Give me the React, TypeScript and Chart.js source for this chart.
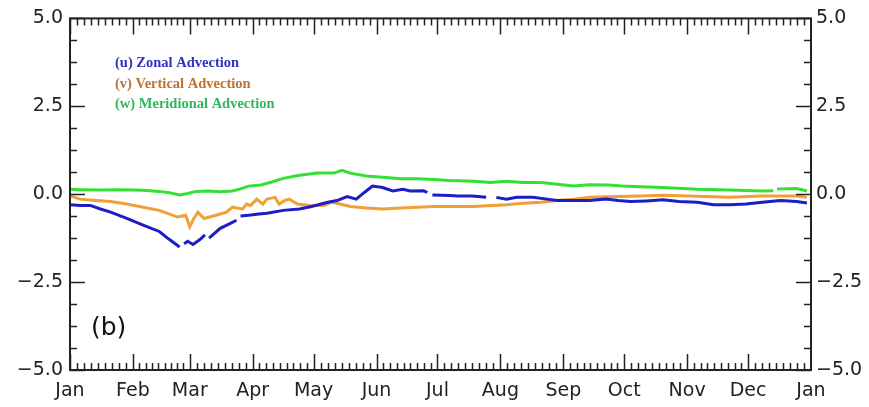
import React, { useEffect, useRef } from "react";
import { Chart, registerables } from "chart.js";

Chart.register(...registerables);

const monthLabels = ["Jan", "Feb", "Mar", "Apr", "May", "Jun", "Jul", "Aug", "Sep", "Oct", "Nov", "Dec", "Jan"];
const monthStartDays = [0, 31, 59, 90, 120, 151, 181, 212, 243, 273, 304, 334, 365];
const yTickValues = [-5, -2.5, 0, 2.5, 5];
const legendLabels = ["(u) Zonal Advection", "(v) Vertical Advection", "(w) Meridional Advection"];
const panelLabel = "(b)";

// (u) Zonal advection (blue); null = gap in the line
const zonalDays = [0, 5, 10, 15, 20, 28, 36, 44, 49, 54, 55, 56.2, 58, 60.6, 64, 66.5, 67.3, 68.5, 74, 79, 82, 82.8, 84, 88, 93, 97, 105, 113, 119, 127, 131.5, 136.5, 141, 145, 149, 154, 159, 164, 167.5, 174, 176, 177.2, 178.5, 183, 187, 191, 198, 205, 206, 207.5, 210, 215, 220, 228, 235, 240, 248, 256, 264, 270, 276, 284, 292, 300, 309, 317, 325, 333, 341, 350, 358, 363];
const zonalValues = [-0.3, -0.32, -0.32, -0.42, -0.51, -0.69, -0.88, -1.06, -1.29, -1.5, null, -1.41, -1.34, -1.43, -1.29, -1.16, null, -1.25, -0.97, -0.83, -0.74, null, -0.62, -0.6, -0.56, -0.54, -0.46, -0.42, -0.35, -0.23, -0.18, -0.07, -0.14, 0.05, 0.23, 0.19, 0.09, 0.14, 0.09, 0.1, 0.05, null, -0.02, -0.03, -0.04, -0.05, -0.05, -0.09, null, null, -0.09, -0.14, -0.09, -0.09, -0.14, -0.18, -0.18, -0.18, -0.14, -0.18, -0.21, -0.19, -0.16, -0.21, -0.23, -0.3, -0.3, -0.28, -0.23, -0.18, -0.21, -0.25];

// (v) Vertical advection (orange)
const verticalDays = [0, 5, 11, 20, 28, 36, 44, 53, 57, 59, 61, 63, 66, 72, 77, 80, 85, 87, 89, 92, 95, 97, 101, 103, 106, 108, 112, 118, 125, 129, 133, 138, 146, 154, 163, 171, 179, 187, 199, 215, 223, 232, 240, 248, 256, 265, 281, 292, 309, 325, 341, 358, 363];
const verticalValues = [-0.05, -0.14, -0.17, -0.21, -0.28, -0.37, -0.46, -0.65, -0.6, -0.93, -0.69, -0.51, -0.69, -0.6, -0.51, -0.37, -0.42, -0.28, -0.32, -0.14, -0.28, -0.14, -0.09, -0.28, -0.17, -0.14, -0.28, -0.32, -0.32, -0.23, -0.28, -0.35, -0.39, -0.42, -0.39, -0.37, -0.35, -0.35, -0.35, -0.3, -0.26, -0.23, -0.18, -0.14, -0.09, -0.07, -0.05, -0.03, -0.06, -0.09, -0.05, -0.05, -0.09];

// (w) Meridional advection (green)
const meridionalDays = [0, 5, 15, 25, 36, 44, 49, 54, 58, 62, 68, 74, 80, 84, 88, 94, 99, 105, 113, 122, 130, 134, 138, 146, 154, 163, 171, 179, 187, 199, 207, 215, 223, 232, 240, 248, 256, 265, 272, 281, 292, 309, 325, 341, 346.5, 347.3, 348.3, 358, 363];
const meridionalValues = [0.14, 0.13, 0.12, 0.13, 0.11, 0.08, 0.04, -0.02, 0.02, 0.08, 0.09, 0.07, 0.09, 0.15, 0.23, 0.26, 0.34, 0.45, 0.54, 0.6, 0.6, 0.68, 0.6, 0.52, 0.48, 0.44, 0.44, 0.42, 0.39, 0.37, 0.33, 0.37, 0.33, 0.33, 0.28, 0.23, 0.27, 0.26, 0.23, 0.21, 0.19, 0.14, 0.12, 0.09, 0.1, null, 0.15, 0.16, 0.09];

const toPoints = (days: number[], vals: (number | null)[]) => days.map((d, i) => ({ x: d, y: vals[i] }));

const TICK_FONT = { family: "DejaVu Sans", size: 19 };
const AXIS_COLOR = "#222";

const fmt = (v: number) => (v < 0 ? "\u2212" + Math.abs(v).toFixed(1) : v.toFixed(1));

const decorPlugin = {
  id: "decor",
  afterDraw(chart: any) {
    const ctx = chart.ctx;
    const { left, right, top, bottom } = chart.chartArea;
    const xs = chart.scales.x;
    const ys = chart.scales.y;
    ctx.save();
    ctx.strokeStyle = AXIS_COLOR;
    ctx.lineWidth = 1.5;
    ctx.beginPath();
    for (let m = 0; m < monthStartDays.length - 1; m++) {
      const a = monthStartDays[m];
      const b = monthStartDays[m + 1];
      for (let k = 0; k < 9; k++) {
        const d = a + ((b - a) * k) / 9;
        const px = Math.round(xs.getPixelForValue(d)) + 0.5;
        const len = k === 0 ? 16 : 7;
        ctx.moveTo(px, bottom);
        ctx.lineTo(px, bottom - len);
        ctx.moveTo(px, top);
        ctx.lineTo(px, top + len);
      }
    }
    for (let i = 0; i <= 16; i++) {
      const v = -5 + i * 0.625;
      const py = Math.round(ys.getPixelForValue(v)) + 0.5;
      const major = i % 4 === 0;
      const len = major ? 15 : 7;
      ctx.moveTo(left, py);
      ctx.lineTo(left + len, py);
      ctx.moveTo(right, py);
      ctx.lineTo(right - len, py);
    }
    ctx.stroke();
    ctx.lineWidth = 2;
    ctx.strokeRect(left, top, right - left, bottom - top);

    const legendColors = ["#3030c0", "#c07030", "#30b858"];
    ctx.font = "bold 14.5px 'Liberation Serif'";
    ctx.textAlign = "left";
    ctx.textBaseline = "middle";
    legendLabels.forEach((t, i) => {
      ctx.fillStyle = legendColors[i];
      ctx.fillText(t, left + 45, top + 45 + i * 20.5);
    });

    ctx.fillStyle = "#111";
    ctx.font = "25px 'DejaVu Sans'";
    ctx.fillText(panelLabel, left + 21, bottom - 42);
    ctx.restore();
  },
};

export default function App() {
  const ref = useRef<HTMLCanvasElement>(null);
  useEffect(() => {
    if (!ref.current) return;
    const yCommon = {
      type: "linear" as const,
      min: -5,
      max: 5,
      display: true,
      grid: { display: false, drawTicks: false },
      border: { display: false },
      afterBuildTicks: (s: any) => {
        s.ticks = yTickValues.map((v) => ({ value: v }));
      },
      ticks: {
        font: TICK_FONT,
        color: AXIS_COLOR,
        callback: (v: any) => fmt(Number(v)),
      },
    };
    const mk = (label: string, data: any, color: string) => ({
      label,
      data,
      borderColor: color,
      borderWidth: 3,
      pointRadius: 0,
      spanGaps: false,
      tension: 0,
    });
    const chart = new Chart(ref.current, {
      type: "line",
      data: {
        datasets: [
          mk(legendLabels[0], toPoints(zonalDays, zonalValues), "#1c1cc8"),
          mk(legendLabels[1], toPoints(verticalDays, verticalValues), "#f2a035"),
          mk(legendLabels[2], toPoints(meridionalDays, meridionalValues), "#33e033"),
        ],
      },
      options: {
        animation: false,
        responsive: false,
        layout: { padding: { top: 13, left: 0, right: 0, bottom: 0 } },
        plugins: { legend: { display: false }, tooltip: { enabled: false } },
        scales: {
          x: {
            type: "linear",
            position: "bottom",
            min: 0,
            max: 365,
            grid: { display: false, drawTicks: false },
            border: { display: false },
            afterBuildTicks: (s: any) => {
              s.ticks = monthStartDays.map((v) => ({ value: v }));
            },
            afterFit: (s: any) => {
              s.height = 37;
            },
            ticks: {
              autoSkip: false,
              maxRotation: 0,
              minRotation: 0,
              padding: 10,
              font: TICK_FONT,
              color: AXIS_COLOR,
              callback: (_v: any, i: number) => monthLabels[i],
            },
          },
          y: {
            ...yCommon,
            position: "left",
            afterFit: (s: any) => {
              s.width = 70;
            },
            ticks: { ...yCommon.ticks, padding: 7 },
          },
          y2: {
            ...yCommon,
            position: "right",
            afterFit: (s: any) => {
              s.width = 58;
            },
            ticks: { ...yCommon.ticks, padding: 5 },
          },
        },
      } as any,
      plugins: [decorPlugin],
    });
    return () => chart.destroy();
  }, []);
  return (
    <div style={{ position: "fixed", left: 0, top: 0, width: 869, height: 407, background: "#fff" }}>
      <canvas ref={ref} width={869} height={407} />
    </div>
  );
}
